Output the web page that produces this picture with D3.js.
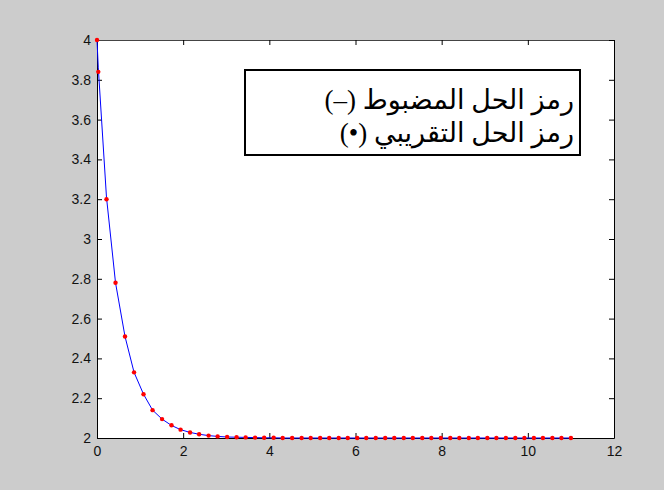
<!DOCTYPE html>
<html>
<head>
<meta charset="utf-8">
<script src="https://cdn.jsdelivr.net/npm/d3@7"></script>
<style>
  body { margin: 0; background: #cccccc; }
  svg { display: block; }
</style>
</head>
<body>
<div id="chart"></div>
<script>
// x positions of the plotted points
const xs = [0, 0.03, 0.22, 0.43, 0.65, 0.86, 1.08, 1.29, 1.51, 1.73, 1.94, 2.16, 2.37, 2.59, 2.80,
  3.02, 3.24, 3.45, 3.67, 3.88, 4.10, 4.31, 4.53, 4.75, 4.96, 5.18, 5.39, 5.61, 5.82, 6.04,
  6.25, 6.47, 6.69, 6.90, 7.12, 7.33, 7.55, 7.76, 7.98, 8.20, 8.41, 8.63, 8.84, 9.06, 9.27,
  9.49, 9.71, 9.92, 10.14, 10.35, 10.57, 10.78, 11.00];

// exact solution (blue line)
const exactY = [4, 3.86, 3.21, 2.78, 2.51, 2.33, 2.22, 2.14, 2.095, 2.063, 2.042, 2.028, 2.019, 2.012, 2.008,
  2.005, 2.004, 2.003, 2.002, 2.001, 2.001, 2, 2, 2, 2, 2, 2, 2, 2, 2,
  2, 2, 2, 2, 2, 2, 2, 2, 2, 2, 2, 2, 2, 2, 2,
  2, 2, 2, 2, 2, 2, 2, 2];

// approximate solution (red dots)
const approxY = [4, 3.84, 3.20, 2.78, 2.51, 2.33, 2.22, 2.14, 2.095, 2.064, 2.042, 2.028, 2.019, 2.012, 2.008,
  2.005, 2.004, 2.003, 2.002, 2.001, 2.001, 2, 2, 2, 2, 2, 2, 2, 2, 2,
  2, 2, 2, 2, 2, 2, 2, 2, 2, 2, 2, 2, 2, 2, 2,
  2, 2, 2, 2, 2, 2, 2, 2];

const xTicks = [0, 2, 4, 6, 8, 10, 12];
const yTicks = [2, 2.2, 2.4, 2.6, 2.8, 3, 3.2, 3.4, 3.6, 3.8, 4];
const legendLines = ["رمز الحل المضبوط (–)", "رمز الحل التقريبي (•)"];

const width = 664, height = 490;
const margin = ({ top: 40, right: 50, bottom: 52, left: 97 });

const xScale = d3.scaleLinear().domain([0, 12]).range([margin.left, width - margin.right]);
const yScale = d3.scaleLinear().domain([2, 4]).range([height - margin.bottom, margin.top]);

const svg = d3.select("#chart").append("svg")
    .attr("width", width)
    .attr("height", height)
    .style("background", "#cccccc");

// plot area
svg.append("rect")
    .attr("x", margin.left)
    .attr("y", margin.top)
    .attr("width", xScale(12) - xScale(0))
    .attr("height", yScale(2) - yScale(4))
    .attr("fill", "#ffffff");

// axes, ticks inward like matlab
const axisFont = "Liberation Sans, Arial, sans-serif";

const xAxis = svg.append("g")
    .attr("transform", `translate(0,${yScale(2)})`)
    .call(d3.axisBottom(xScale).tickValues(xTicks).tickFormat(d3.format("d")).tickSizeInner(-5).tickSizeOuter(0).tickPadding(8));
const yAxis = svg.append("g")
    .attr("transform", `translate(${xScale(0)},0)`)
    .call(d3.axisLeft(yScale).tickValues(yTicks).tickFormat(d => d3.format("~g")(d)).tickSizeInner(-5).tickSizeOuter(0).tickPadding(6));
const xTop = svg.append("g")
    .attr("transform", `translate(0,${yScale(4)})`)
    .call(d3.axisTop(xScale).tickValues(xTicks).tickFormat("").tickSizeInner(-5).tickSizeOuter(0));
const yRight = svg.append("g")
    .attr("transform", `translate(${xScale(12)},0)`)
    .call(d3.axisRight(yScale).tickValues(yTicks).tickFormat("").tickSizeInner(-5).tickSizeOuter(0));

[xAxis, yAxis, xTop, yRight].forEach(g => {
    g.select(".domain").attr("stroke", "#000").attr("stroke-width", 1);
    g.selectAll(".tick line").attr("stroke", "#000");
    g.selectAll(".tick text")
        .attr("fill", "#111")
        .style("font-family", axisFont)
        .style("font-size", "14px");
});
xTop.select(".domain").attr("stroke", "#444");

// exact solution line
const line = d3.line()
    .x((d, i) => xScale(xs[i]))
    .y(d => yScale(d));

svg.append("path")
    .datum(exactY)
    .attr("fill", "none")
    .attr("stroke", "#0000ff")
    .attr("stroke-width", 1)
    .attr("d", line);

// approximate solution dots
svg.append("g")
    .selectAll("circle")
    .data(approxY)
    .join("circle")
    .attr("cx", (d, i) => xScale(xs[i]))
    .attr("cy", d => yScale(d))
    .attr("r", 2.2)
    .attr("fill", "#ff0000");

// legend box
const legend = svg.append("g");
legend.append("rect")
    .attr("x", 245)
    .attr("y", 70)
    .attr("width", 335)
    .attr("height", 85)
    .attr("fill", "#ffffff")
    .attr("stroke", "#000")
    .attr("stroke-width", 2);

legend.selectAll("text")
    .data(legendLines)
    .join("text")
    .attr("x", 574)
    .attr("y", (d, i) => 109 + i * 33)
    .attr("text-anchor", "start")
    .attr("direction", "rtl")
    .style("font-family", "Liberation Serif, DejaVu Sans, serif")
    .style("font-size", "27px")
    .attr("fill", "#000")
    .text(d => d);
</script>
</body>
</html>
